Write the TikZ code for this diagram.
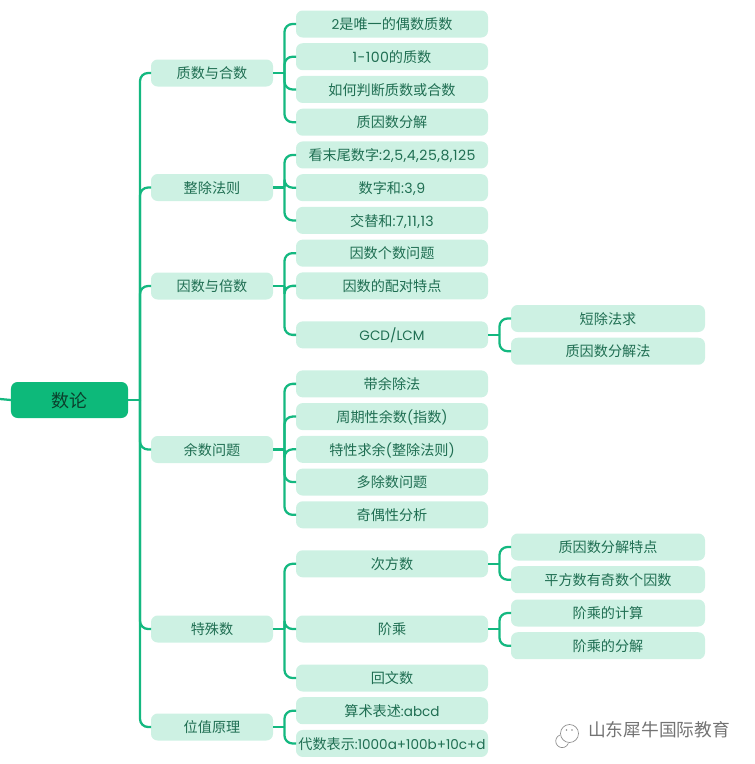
\documentclass[tikz,border=0pt]{standalone}
\usepackage{fontspec}
\setmainfont{Noto Sans CJK SC}
\newfontfamily\latf[Scale=0.96]{Poppins}
\newfontfamily\latw[LetterSpace=3]{Poppins}
\usetikzlibrary{positioning}
\definecolor{rootgreen}{HTML}{0DB97A}
\definecolor{palegreen}{HTML}{CDF1E3}
\definecolor{linegreen}{HTML}{14B880}
\definecolor{textgreen}{HTML}{1F6E52}
\definecolor{rootink}{HTML}{0B3F2C}
\tikzset{
  x=.75pt, y=-.75pt, node distance=4.3pt,
  box/.style={fill=palegreen, text=textgreen, rounded corners=5pt, inner sep=0pt, outer sep=0pt,
    text height=9.15pt, text depth=.55pt, minimum height=20.25pt,
    font=\fontsize{10.6pt}{12pt}\selectfont},
  leaf/.style={box, minimum width=144pt},
  mid/.style={box, minimum width=91.5pt},
  far/.style={box, minimum width=145.5pt},
  root/.style={fill=rootgreen, text=rootink, rounded corners=5pt, inner sep=0pt, outer sep=0pt,
    text height=12pt, text depth=1pt,
    minimum width=87.8pt, minimum height=27pt, font=\fontsize{13.5pt}{15pt}\selectfont},
  link/.style={draw=linegreen, line width=1.7pt, rounded corners=6pt},
  wmline/.style={draw=black!45, line width=.5pt},
}
\newcommand{\la}[1]{{\latf #1}}
\newcommand{\lw}[1]{{\latw #1}}
\newcommand{\Branch}[2]{
  \coordinate (#1j) at ([xshift=8.6pt]#1.east);
  \draw[link] (#1.east) -- (#1j);
  \foreach \c in {#2} \draw[link] (#1j) |- (\c.west);
}
\begin{document}
\begin{tikzpicture}
  \useasboundingbox (0,0) rectangle (754,764);

  \node[root] (num) at (69.5,400) {数论};
  \coordinate (stub) at (0,399);

  \node[mid] (prime) at (212,73) {质数与合数};
  \node[mid] (rule) at (212,187.5) {整除法则};
  \node[mid] (factor) at (212,286) {因数与倍数};
  \node[mid] (rem) at (212,449.5) {余数问题};
  \node[mid] (spec) at (212,629) {特殊数};
  \node[mid] (place) at (212,727) {位值原理};

  \node[leaf] (a1) at (392,24) {\la{2}是唯一的偶数质数};
  \node[leaf,below=of a1] (a2) {\lw{1-100}的质数};
  \node[leaf,below=of a2] (a3) {如何判断质数或合数};
  \node[leaf,below=of a3] (a4) {质因数分解};
  \node[leaf,below=of a4] (b1) {看末尾数字\lw{:2,5,4,25,8,125}};
  \node[leaf,below=of b1] (b2) {数字和\lw{:3,9}};
  \node[leaf,below=of b2] (b3) {交替和\lw{:7,11,13}};
  \node[leaf,below=of b3] (c1) {因数个数问题};
  \node[leaf,below=of c1] (c2) {因数的配对特点};
  \node[leaf,below=16.5pt of c2] (c3) {\la{GCD/LCM}};
  \node[leaf,below=16.5pt of c3] (d1) {带余除法};
  \node[leaf,below=of d1] (d2) {周期性余数\la{(}指数\la{)}};
  \node[leaf,below=of d2] (d3) {特性求余\la{(}整除法则\la{)}};
  \node[leaf,below=of d3] (d4) {多除数问题};
  \node[leaf,below=of d4] (d5) {奇偶性分析};
  \node[leaf,below=16.5pt of d5] (e1) {次方数};
  \node[leaf] (e2) at (392,629) {阶乘};
  \node[leaf,below=16.5pt of e2] (e3) {回文数};
  \node[leaf,below=of e3] (f1) {算术表述\la{:abcd}};
  \node[leaf,below=of f1] (f2) {代数表示\la{:1000a+100b+10c+d}};

  \node[far] (g1) at (608,318.5) {短除法求};
  \node[far,below=of g1] (g2) {质因数分解法};
  \node[far] (h1) at (608,547) {质因数分解特点};
  \node[far,below=of h1] (h2) {平方数有奇数个因数};
  \node[far] (i1) at (608,613) {阶乘的计算};
  \node[far,below=of i1] (i2) {阶乘的分解};

  % trunk
  \draw[link] (stub) -- (num.west);
  \coordinate (numj) at ([xshift=9pt]num.east);
  \draw[link] (num.east) -- (numj);
  \foreach \c in {prime,rule,factor,rem,spec,place} \draw[link] (numj) |- (\c.west);

  \Branch{prime}{a1,a2,a3,a4}
  \Branch{rule}{b1,b2,b3}
  \Branch{factor}{c1,c2,c3}
  \Branch{rem}{d1,d2,d3,d4,d5}
  \Branch{spec}{e1,e2,e3}
  \Branch{place}{f1,f2}
  \Branch{c3}{g1,g2}
  \Branch{e1}{h1,h2}
  \Branch{e2}{i1,i2}

  % watermark
  \node[text=black!55, font=\fontsize{13.3pt}{15pt}\selectfont, inner sep=0pt] (wm) at (659,730) {山东犀牛国际教育};
  \draw[wmline] (569.5,733.5) circle [radius=9];
  \draw[wmline] (560,735) arc [start angle=250, end angle=20, radius=6.5];
  \fill[black!45] (566.5,730) circle [radius=.9] (572,730) circle [radius=.9];
\end{tikzpicture}
\end{document}
